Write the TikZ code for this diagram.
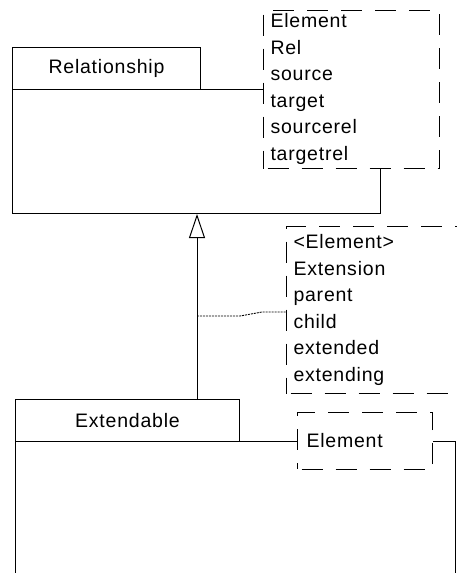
\documentclass[tikz,border=0pt]{standalone}
\usepackage{fontspec}
\setmainfont{Liberation Sans}[LetterSpace=4]
\usetikzlibrary{arrows.meta}
\begin{document}
\begin{tikzpicture}[x=1pt,y=-1pt,
  font=\fontsize{19.5}{26.5}\selectfont,
  line width=1pt,
  tabbox/.style={draw, fill=white, minimum height=42, inner sep=0, anchor=north west},
  bodybox/.style={draw, fill=white, inner sep=0, anchor=north west},
  notebox/.style={draw, dash pattern=on 21pt off 13pt, dash phase=-4pt, fill=white, inner sep=0, anchor=north west},
  notetext/.style={inner sep=0, anchor=west, align=left},
  gen/.style={-{Triangle[open, length=24pt, width=16pt, fill=white]}},
  link/.style={line width=0.9pt, dash pattern=on 2pt off 1pt},
]
\useasboundingbox (0,0) rectangle (456,573);
% Relationship
\node[bodybox, minimum width=368, minimum height=124] (relbody) at (12,89) {};
\node[tabbox, minimum width=188] (reltab) at (12,47) {Relationship};
\node[notebox, minimum width=176, minimum height=158] (relnote) at (263,10) {};
\node[notetext] (relnotetext) at (270,89) {Element\\Rel\\source\\target\\sourcerel\\targetrel};
% Extension note
\node[notebox, minimum width=200, minimum height=167] (extnote) at (286,226) {};
\node[notetext] (extnotetext) at (293,310) {<Element>\\Extension\\parent\\child\\extended\\extending};
% Extendable
\node[bodybox, minimum width=440, minimum height=200] (extbody) at (15,441) {};
\node[tabbox, minimum width=224] (exttab) at (15,399) {Extendable};
\node[notebox, minimum width=135, minimum height=57] (elnote) at (297,411.5) {};
\node[notetext] (elnotetext) at (306,441) {Element};
% generalization
\path (exttab.north west) ++(182,0) coordinate (genfrom);
\draw[gen] (genfrom) -- (genfrom |- relbody.south);
% link from generalization to note
\coordinate (lk1) at (197,316);
\coordinate (lk2) at (240,316);
\coordinate (lk3) at (262,312);
\coordinate (lk4) at (286,312);
\draw[link] (lk1) -- (lk2) -- (lk3) -- (lk4);
\end{tikzpicture}
\end{document}
